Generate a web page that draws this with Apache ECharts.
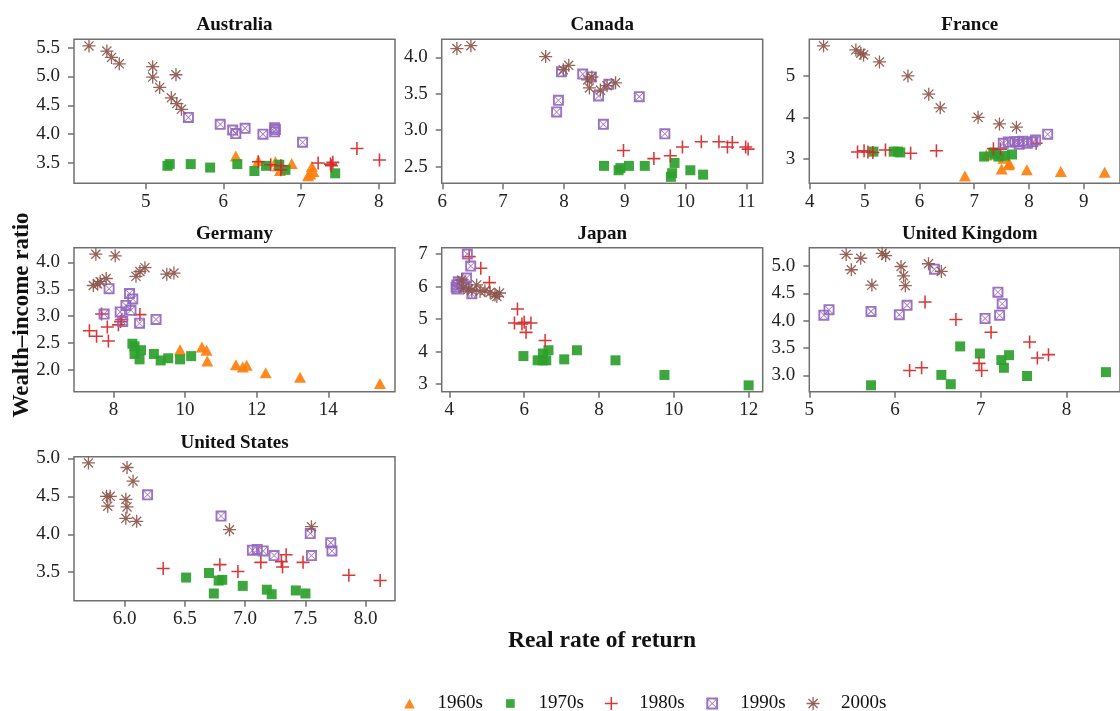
<!DOCTYPE html>
<html>
<head>
<meta charset="utf-8">
<script src="https://cdn.jsdelivr.net/npm/echarts@6/dist/echarts.min.js"></script>
<style>
html,body{margin:0;padding:0;background:#fff;}
#chart{width:1120px;height:711px;}
</style>
</head>
<body>
<div id="chart"></div>
<script>
// ---------- Data ----------
const countries = ['Australia','Canada','France','Germany','Japan','United Kingdom','United States'];
const decades = ['1960s','1970s','1980s','1990s','2000s'];

// Australia
const AUS_1960 = [[6.16,3.62],[6.45,3.54],[6.67,3.52],[6.70,3.45],[6.73,3.37],[6.88,3.49],[7.09,3.28],[7.12,3.31],[7.16,3.35],[7.14,3.44]];
const AUS_1970 = [[5.28,3.45],[5.31,3.48],[5.58,3.48],[5.83,3.42],[6.18,3.48],[6.40,3.36],[6.55,3.45],[6.72,3.47],[6.80,3.38],[7.44,3.32]];
const AUS_1980 = [[6.45,3.52],[6.61,3.47],[6.74,3.45],[6.74,3.38],[7.22,3.50],[7.38,3.48],[7.41,3.51],[7.39,3.45],[7.72,3.75],[8.01,3.55]];
const AUS_1990 = [[5.55,4.29],[5.96,4.17],[6.12,4.07],[6.16,4.01],[6.28,4.10],[6.51,4.00],[6.66,4.11],[6.66,4.04],[6.67,4.08],[7.02,3.86]];
const AUS_2000 = [[4.27,5.53],[4.50,5.44],[4.56,5.33],[4.66,5.22],[5.09,5.17],[5.09,4.99],[5.39,5.03],[5.18,4.81],[5.33,4.63],[5.40,4.53],[5.46,4.43]];
// Canada
const CAN_1960 = [];
const CAN_1970 = [[8.66,2.51],[8.90,2.45],[8.93,2.48],[9.07,2.51],[9.33,2.51],[9.82,2.55],[9.78,2.41],[9.76,2.36],[10.08,2.45],[10.29,2.39]];
const CAN_1980 = [[8.98,2.72],[9.48,2.61],[9.75,2.65],[9.95,2.77],[10.26,2.84],[10.55,2.84],[10.69,2.77],[10.77,2.83],[10.99,2.77],[11.03,2.74]];
const CAN_1990 = [[7.96,3.80],[7.91,3.41],[7.88,3.25],[8.31,3.77],[8.45,3.73],[8.57,3.47],[8.74,3.63],[8.65,3.08],[9.24,3.46],[9.66,2.95]];
const CAN_2000 = [[6.24,4.12],[6.47,4.16],[7.70,4.01],[7.99,3.83],[8.08,3.89],[8.39,3.69],[8.42,3.58],[8.46,3.73],[8.60,3.55],[8.71,3.61],[8.85,3.65]];
// France
const FRA_1960 = [[6.83,2.58],[7.22,3.09],[7.53,3.01],[7.50,2.75],[7.63,2.85],[7.64,2.89],[7.96,2.73],[8.58,2.69],[9.38,2.67]];
const FRA_1970 = [[5.16,3.17],[5.53,3.17],[5.61,3.17],[5.65,3.15],[7.18,3.05],[7.35,3.15],[7.38,3.10],[7.44,3.05],[7.56,3.07],[7.69,3.10]];
const FRA_1980 = [[4.87,3.16],[4.99,3.19],[5.06,3.16],[5.15,3.15],[5.38,3.21],[5.84,3.13],[6.31,3.19],[7.35,3.24],[7.48,3.23],[8.13,3.37]];
const FRA_1990 = [[7.53,3.37],[7.62,3.40],[7.74,3.41],[7.81,3.41],[7.82,3.35],[7.88,3.42],[7.97,3.37],[8.07,3.41],[8.12,3.45],[8.34,3.59]];
const FRA_2000 = [[4.25,5.73],[4.84,5.63],[4.93,5.55],[4.98,5.51],[5.27,5.34],[5.79,5.00],[6.17,4.56],[6.38,4.23],[7.07,4.00],[7.46,3.84],[7.77,3.76]];
// Germany
const DEU_1960 = [[9.86,2.38],[10.47,2.43],[10.60,2.37],[10.62,2.17],[11.42,2.10],[11.61,2.06],[11.72,2.09],[12.25,1.95],[13.21,1.87],[15.44,1.75]];
const DEU_1970 = [[8.53,2.49],[8.59,2.44],[8.59,2.30],[8.77,2.37],[8.73,2.20],[9.13,2.30],[9.32,2.18],[9.53,2.22],[9.86,2.20],[10.17,2.26]];
const DEU_1980 = [[7.33,2.73],[7.53,2.63],[7.86,2.54],[7.83,2.80],[7.67,3.04],[8.14,2.84],[8.23,2.94],[8.20,2.90],[8.74,3.03]];
const DEU_1990 = [[7.88,3.51],[7.74,3.04],[8.19,3.08],[8.26,2.90],[8.45,3.42],[8.35,3.20],[8.54,3.32],[8.49,3.11],[8.73,2.87],[9.19,2.94]];
const DEU_2000 = [[7.51,4.15],[8.05,4.12],[7.44,3.57],[7.56,3.60],[7.63,3.64],[7.80,3.70],[8.63,3.74],[8.74,3.83],[8.88,3.90],[9.49,3.78],[9.69,3.80]];
// Japan
const JPN_1960 = [];
const JPN_1970 = [[5.98,3.86],[6.36,3.73],[6.50,3.94],[6.50,3.73],[6.59,3.73],[6.65,4.04],[7.07,3.76],[7.41,4.04],[8.44,3.73],[9.75,3.28],[12.00,2.96]];
const JPN_1980 = [[4.53,6.92],[4.84,6.56],[5.07,6.12],[5.82,5.31],[5.74,4.88],[5.94,4.85],[6.00,4.90],[6.18,4.88],[6.05,4.59],[6.56,4.34]];
const JPN_1990 = [[4.48,7.00],[4.57,6.63],[4.46,6.26],[4.20,6.05],[4.20,5.92],[4.24,6.15],[4.60,5.78],[4.33,6.10],[4.42,6.00],[4.18,5.98]];
const JPN_2000 = [[4.33,6.20],[4.37,5.95],[4.73,6.05],[4.60,5.88],[4.82,5.85],[4.95,5.87],[5.09,5.82],[5.22,5.74],[5.34,5.80],[5.27,5.69],[4.51,5.92]];
// United Kingdom
const GBR_1960 = [];
const GBR_1970 = [[5.72,2.82],[6.54,3.01],[6.65,2.84],[6.76,3.53],[6.99,3.40],[7.24,3.28],[7.27,3.14],[7.33,3.37],[7.54,2.99],[8.46,3.06]];
const GBR_1980 = [[6.17,3.09],[6.31,3.14],[6.35,4.34],[6.71,4.02],[6.98,3.22],[7.01,3.09],[7.12,3.79],[7.57,3.61],[7.66,3.32],[7.79,3.38]];
const GBR_1990 = [[5.17,4.10],[5.23,4.20],[5.72,4.17],[6.05,4.11],[6.14,4.28],[6.46,4.94],[7.05,4.04],[7.20,4.52],[7.25,4.31],[7.22,4.10]];
const GBR_2000 = [[5.43,5.21],[5.49,4.93],[5.60,5.14],[5.73,4.65],[5.85,5.23],[5.89,5.19],[6.07,4.99],[6.10,4.82],[6.12,4.64],[6.39,5.04],[6.54,4.90]];
// United States
const USA_1960 = [];
const USA_1970 = [[6.51,3.43],[6.70,3.49],[6.74,3.22],[6.78,3.39],[6.81,3.40],[6.98,3.32],[7.18,3.27],[7.22,3.21],[7.42,3.26],[7.50,3.22]];
const USA_1980 = [[6.32,3.55],[6.79,3.60],[6.94,3.51],[7.13,3.63],[7.30,3.64],[7.34,3.73],[7.31,3.57],[7.48,3.63],[7.86,3.46],[8.12,3.39]];
const USA_1990 = [[6.19,4.52],[6.80,4.24],[7.06,3.79],[7.10,3.80],[7.15,3.78],[7.24,3.72],[7.54,4.01],[7.55,3.72],[7.71,3.89],[7.72,3.78]];
const USA_2000 = [[5.70,4.94],[5.85,4.50],[5.88,4.50],[5.86,4.37],[6.02,4.88],[6.07,4.70],[6.01,4.46],[6.02,4.36],[6.01,4.21],[6.10,4.17],[6.87,4.06],[7.55,4.10]];

// Tick labels
const AUS_xTicks = [5,6,7,8],            AUS_yTicks = [3.5,4.0,4.5,5.0,5.5];
const CAN_xTicks = [6,7,8,9,10,11],      CAN_yTicks = [2.5,3.0,3.5,4.0];
const FRA_xTicks = [4,5,6,7,8,9],        FRA_yTicks = [3,4,5];
const DEU_xTicks = [8,10,12,14],         DEU_yTicks = [2.0,2.5,3.0,3.5,4.0];
const JPN_xTicks = [4,6,8,10,12],        JPN_yTicks = [3,4,5,6,7];
const GBR_xTicks = [5,6,7,8],            GBR_yTicks = [3.0,3.5,4.0,4.5,5.0];
const USA_xTicks = [6.0,6.5,7.0,7.5,8.0],USA_yTicks = [3.5,4.0,4.5,5.0];

// ---------- Layout / style ----------
const panelData = [
  [AUS_1960,AUS_1970,AUS_1980,AUS_1990,AUS_2000],
  [CAN_1960,CAN_1970,CAN_1980,CAN_1990,CAN_2000],
  [FRA_1960,FRA_1970,FRA_1980,FRA_1990,FRA_2000],
  [DEU_1960,DEU_1970,DEU_1980,DEU_1990,DEU_2000],
  [JPN_1960,JPN_1970,JPN_1980,JPN_1990,JPN_2000],
  [GBR_1960,GBR_1970,GBR_1980,GBR_1990,GBR_2000],
  [USA_1960,USA_1970,USA_1980,USA_1990,USA_2000]
];
const panelTicks = [
  [AUS_xTicks,AUS_yTicks,0,1],[CAN_xTicks,CAN_yTicks,0,1],[FRA_xTicks,FRA_yTicks,0,0],
  [DEU_xTicks,DEU_yTicks,0,1],[JPN_xTicks,JPN_yTicks,0,0],[GBR_xTicks,GBR_yTicks,0,1],
  [USA_xTicks,USA_yTicks,1,1]
];
const panelRange = [
  [4.077,8.21,3.147,5.645],
  [5.99,11.27,2.271,4.247],
  [3.99,9.66,2.403,5.887],
  [6.90,15.86,1.60,4.271],
  [3.795,12.376,2.765,7.194],
  [5.00,8.624,2.703,5.333],
  [5.58,8.243,3.125,5.022]
];
const colLeft = [74, 441.7, 809.3];
const rowTop = [39.3, 247.7, 456.7];
const GW = 321, GH = 144;

const colors = ['#ff7f0e','#2ca02c','#d62728','#9467bd','#8c564b'];
const PLUS = 'M8.8,0 L11.2,0 L11.2,20 L8.8,20 Z M0,8.8 L20,8.8 L20,11.2 L0,11.2 Z';
const PLUS_A = 'M9,0 L11,0 L11,20 L9,20 Z M0,9 L20,9 L20,11 L0,11 Z';
const DIAG = 'M3.7,2.3 L17.7,16.3 L16.3,17.7 L2.3,3.7 Z M3.7,17.7 L2.3,16.3 L16.3,2.3 L17.7,3.7 Z';
const SQX = 'M0,0 L20,0 L20,20 L0,20 Z M3.4,3.4 L3.4,16.6 L16.6,16.6 L16.6,3.4 Z ' +
            'M3.2,2.2 L17.8,16.8 L16.8,17.8 L2.2,3.2 Z M3.2,17.8 L2.2,16.8 L16.8,2.2 L17.8,3.2 Z';
const symbols = ['triangle','rect','path://' + PLUS,'path://' + SQX,'path://' + PLUS_A + ' ' + DIAG];
const sizes = [[12,11],10,13,11,13];
const legendIcons = [
  'path://M-2,-2 M22,22 M10,1 L20,19 L0,19 Z',
  'path://M-0.5,-0.5 M20.5,20.5 M3,3 L17,3 L17,17 L3,17 Z',
  'path://' + PLUS,
  'path://M-1,-1 M21,21 ' + SQX,
  'path://' + PLUS_A + ' ' + DIAG
];

const FONT = 'Liberation Serif';
const AX = '#707070';

const grids = [], xAxes = [], yAxes = [], series = [];
for (let i = 0; i < 7; i++) {
  const r = Math.floor(i / 3), c = i % 3;
  grids.push({left: colLeft[c], top: rowTop[r], width: GW, height: GH, show: true,
              borderColor: AX, borderWidth: 1.5, backgroundColor: 'transparent', containLabel: false});
  const [xt, yt, xd, yd] = panelTicks[i];
  const [x0, x1, y0, y1] = panelRange[i];
  xAxes.push({type: 'value', gridIndex: i, min: x0, max: x1,
    axisLine: {show: false, onZero: false}, splitLine: {show: false},
    axisTick: {show: true, length: 6, customValues: xt, lineStyle: {color: AX, width: 1.5}},
    axisLabel: {customValues: xt, margin: 9, fontFamily: FONT, fontSize: 19, color: '#222',
                formatter: v => Number(v).toFixed(xd)}});
  yAxes.push({type: 'value', gridIndex: i, min: y0, max: y1,
    axisLine: {show: false, onZero: false}, splitLine: {show: false},
    axisTick: {show: true, length: 6, customValues: yt, lineStyle: {color: AX, width: 1.5}},
    axisLabel: {customValues: yt, margin: 14, fontFamily: FONT, fontSize: 19, color: '#222',
                formatter: v => Number(v).toFixed(yd)}});
  for (let j = 0; j < 5; j++) {
    series.push({name: decades[j], type: 'scatter', xAxisIndex: i, yAxisIndex: i,
      data: panelData[i][j], symbol: symbols[j], symbolSize: sizes[j],
      itemStyle: {color: colors[j], opacity: 0.92}, emphasis: {disabled: true}, silent: true});
  }
}

const graphics = [];
for (let i = 0; i < 7; i++) {
  const r = Math.floor(i / 3), c = i % 3;
  graphics.push({type: 'text', x: colLeft[c] + GW / 2, y: rowTop[r] - 14,
    style: {text: countries[i], font: 'bold 19px "Liberation Serif"', fill: '#111',
            align: 'center', verticalAlign: 'middle'}});
}
graphics.push({type: 'text', x: 22, y: 315, rotation: Math.PI / 2,
  style: {text: 'Wealth\u2013income ratio', font: 'bold 23px "Liberation Serif"', fill: '#111',
          align: 'center', verticalAlign: 'middle'}});
graphics.push({type: 'text', x: 602, y: 641,
  style: {text: 'Real rate of return', font: 'bold 23.5px "Liberation Serif"', fill: '#111',
          align: 'center', verticalAlign: 'middle'}});

const chart = echarts.init(document.getElementById('chart'), null, {renderer: 'canvas'});
chart.setOption({
  animation: false,
  backgroundColor: '#fff',
  textStyle: {fontFamily: FONT},
  grid: grids, xAxis: xAxes, yAxis: yAxes, series: series,
  graphic: graphics,
  legend: {
    left: 398, top: 689, itemWidth: 46, itemHeight: 13, itemGap: 21,
    data: decades.map((d, j) => ({name: d, icon: legendIcons[j], itemStyle: {color: colors[j]}})),
    textStyle: {fontFamily: FONT, fontSize: 19, color: '#111', padding: [0, 0, 0, 0]},
    selectedMode: false
  }
});
</script>
</body>
</html>
